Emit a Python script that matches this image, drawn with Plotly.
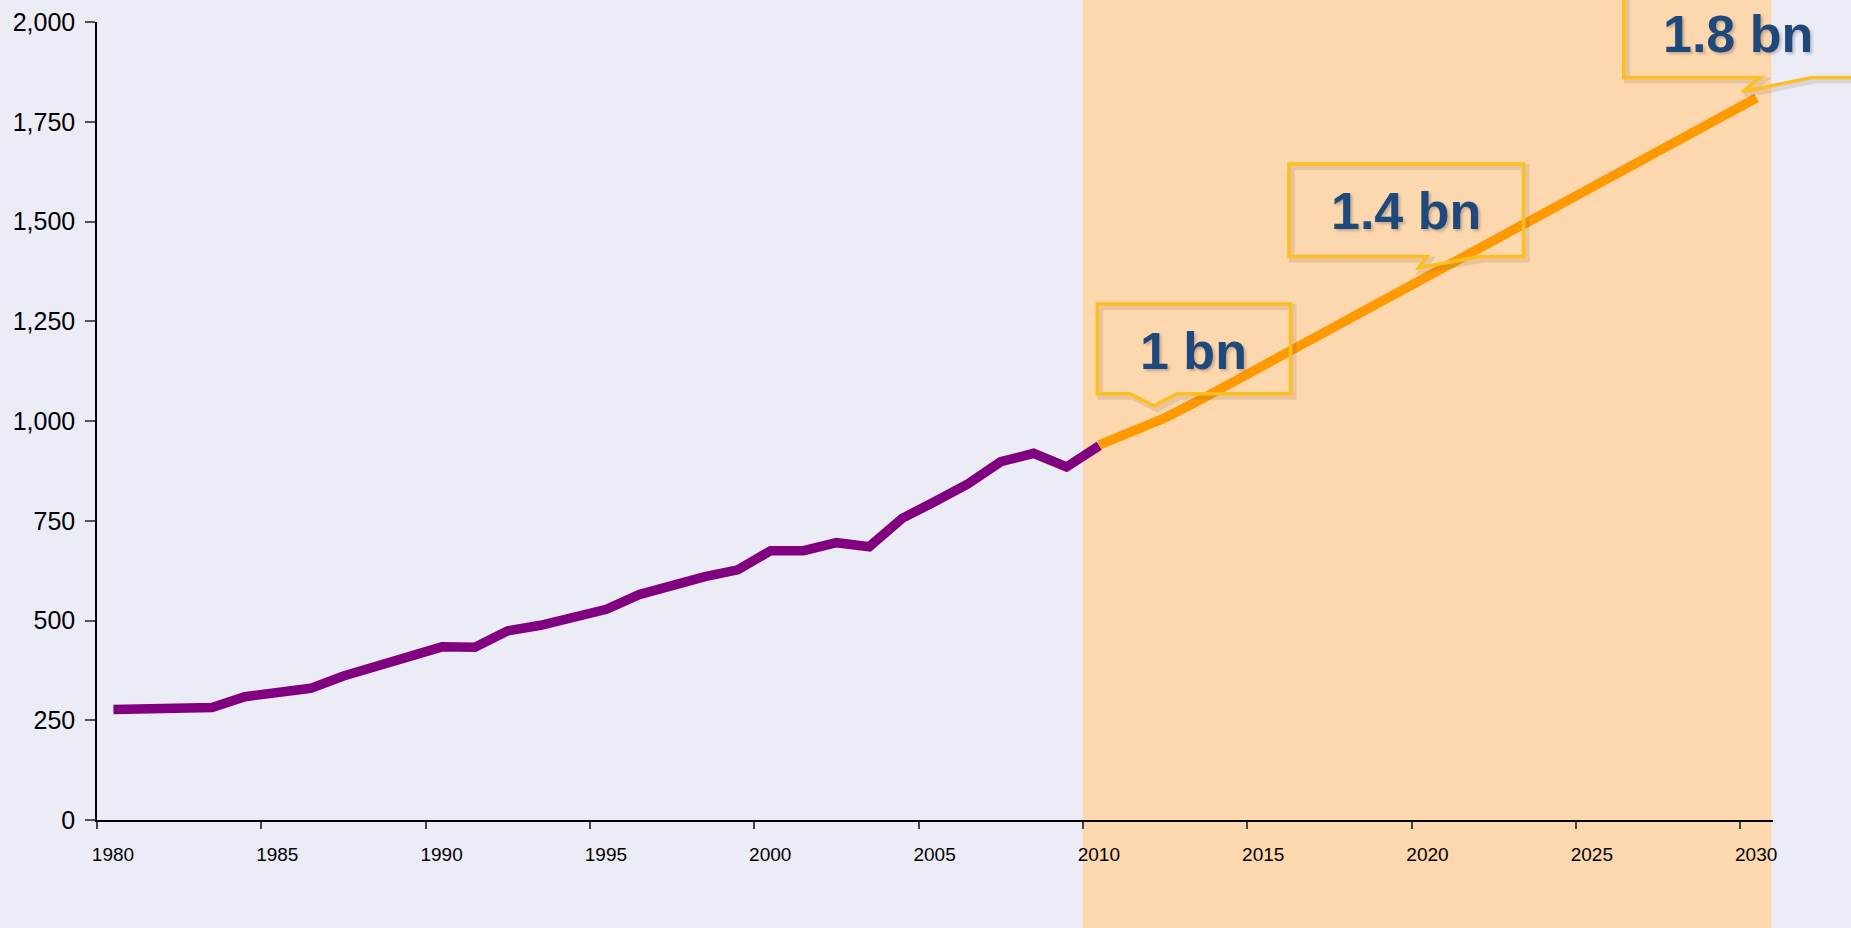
import plotly.graph_objects as go

# historical series (purple) and projection (orange)
hist_years = list(range(1980, 2011))
hist_values = [277, 277, 277, 282, 309, 322, 330, 361, 386, 408,
               434, 433, 474, 488, 510, 528, 565, 589, 610, 627,
               675, 675, 695, 685, 756, 798, 842, 898, 919, 885,
               938]

proj_years = list(range(2010, 2031))
proj_values = [940, 975, 1008, 1050, 1095, 1140, 1184, 1230, 1275, 1320,
               1365, 1410, 1455, 1500, 1545, 1590, 1633, 1677, 1722, 1766,
               1810]

tick_years = [1980, 1985, 1990, 1995, 2000, 2005, 2010, 2015, 2020, 2025, 2030]
y_ticks = [0, 250, 500, 750, 1000, 1250, 1500, 1750, 2000]

callout_labels = ["1 bn", "1.4 bn", "1.8 bn"]

X_RANGE = [1980, 2031]
Y_RANGE = [0, 2000]
BG = "#ECECF6"
SHADE = "#FDD7AE"
GOLD = "#FDBE1F"
TEXT_BLUE = "#1F497D"
FONT = "Liberation Sans, Arial, sans-serif"

# callout outlines (axis units): box left/right/top/bottom + notch (start, tip, end)
callouts = [
    dict(l=2010.44, r=2016.32, t=1293, b=1068, n0=2011.42, tip=(2012.16, 1038), n1=2012.87, text=(2013.37, 1175)),
    dict(l=2016.27, r=2023.41, t=1644, b=1412, n0=2020.47, tip=(2020.22, 1384), n1=2022.10, text=(2019.84, 1526)),
    dict(l=2026.46, r=2034.00, t=2093, b=1861, n0=2030.62, tip=(2030.06, 1825), n1=2032.18, text=(2029.93, 1970)),
]


def px(x):
    return (x - X_RANGE[0]) / (X_RANGE[1] - X_RANGE[0])


def py(y):
    return (y - Y_RANGE[0]) / (Y_RANGE[1] - Y_RANGE[0])


def callout_path(c, dx=0.0, dy=0.0):
    pts = [(c["l"], c["t"]), (c["r"], c["t"]), (c["r"], c["b"]), (c["n1"], c["b"]),
           c["tip"], (c["n0"], c["b"]), (c["l"], c["b"])]
    coords = [f"{px(x) + dx:.5f},{py(y) + dy:.5f}" for x, y in pts]
    return "M " + " L ".join(coords) + " Z"


mid = 0.5  # values are plotted at mid-year

fig = go.Figure()
fig.add_trace(go.Scatter(
    x=[y + mid for y in hist_years], y=hist_values, mode="lines",
    line=dict(color="#800080", width=9.5), hoverinfo="skip", showlegend=False,
))
fig.add_trace(go.Scatter(
    x=[y + mid for y in proj_years], y=proj_values, mode="lines",
    line=dict(color="#FF9900", width=9.5), hoverinfo="skip", showlegend=False,
))

shapes = [
    # projection period shading, full page height
    dict(type="rect", xref="paper", yref="paper", x0=px(2010), x1=px(2030.95),
         y0=-0.2, y1=1.1, fillcolor=SHADE, line_width=0, layer="below"),
]
annotations = []
plot_w = 1851 - 97 - 78
plot_h = 928 - 22 - 108
for c, label in zip(callouts, callout_labels):
    shapes.append(dict(type="path", xref="paper", yref="paper",
                       path=callout_path(c, 3 / plot_w, -3 / plot_h),
                       line=dict(color="rgba(110,90,70,0.15)", width=6), layer="above"))
    shapes.append(dict(type="path", xref="paper", yref="paper", path=callout_path(c),
                       line=dict(color=GOLD, width=3.5), layer="above"))
    annotations.append(dict(
        x=px(c["text"][0]), y=py(c["text"][1]), xref="paper", yref="paper",
        text=f"<b>{label}</b>", showarrow=False, xanchor="center", yanchor="middle",
        font=dict(family=FONT, size=52, color=TEXT_BLUE,
                  shadow="2px 2px 3px rgba(0,0,0,0.22)"),
    ))

fig.update_layout(
    width=1851, height=928,
    margin=dict(l=97, r=78, t=22, b=108, autoexpand=False),
    paper_bgcolor=BG, plot_bgcolor=BG,
    shapes=shapes, annotations=annotations,
    xaxis=dict(
        range=X_RANGE, tickvals=tick_years, ticktext=[str(t) for t in tick_years],
        ticks="outside", ticklen=7, tickwidth=1.5, tickcolor="#444",
        ticklabelshift=16, ticklabelstandoff=9, automargin=False,
        showline=True, linecolor="black", linewidth=2,
        showgrid=False, zeroline=False,
        tickfont=dict(family=FONT, size=19, color="black"),
    ),
    yaxis=dict(
        range=Y_RANGE, tickvals=y_ticks, tickformat=",d",
        ticks="outside", ticklen=10, tickwidth=1.5, tickcolor="#555",
        ticklabelstandoff=5, automargin=False,
        showline=True, linecolor="black", linewidth=1.5,
        showgrid=False, zeroline=False,
        tickfont=dict(family=FONT, size=25, color="black"),
    ),
)

fig.write_html("out.html", config={"displayModeBar": False},
               post_script="document.body.style.margin='0';")
